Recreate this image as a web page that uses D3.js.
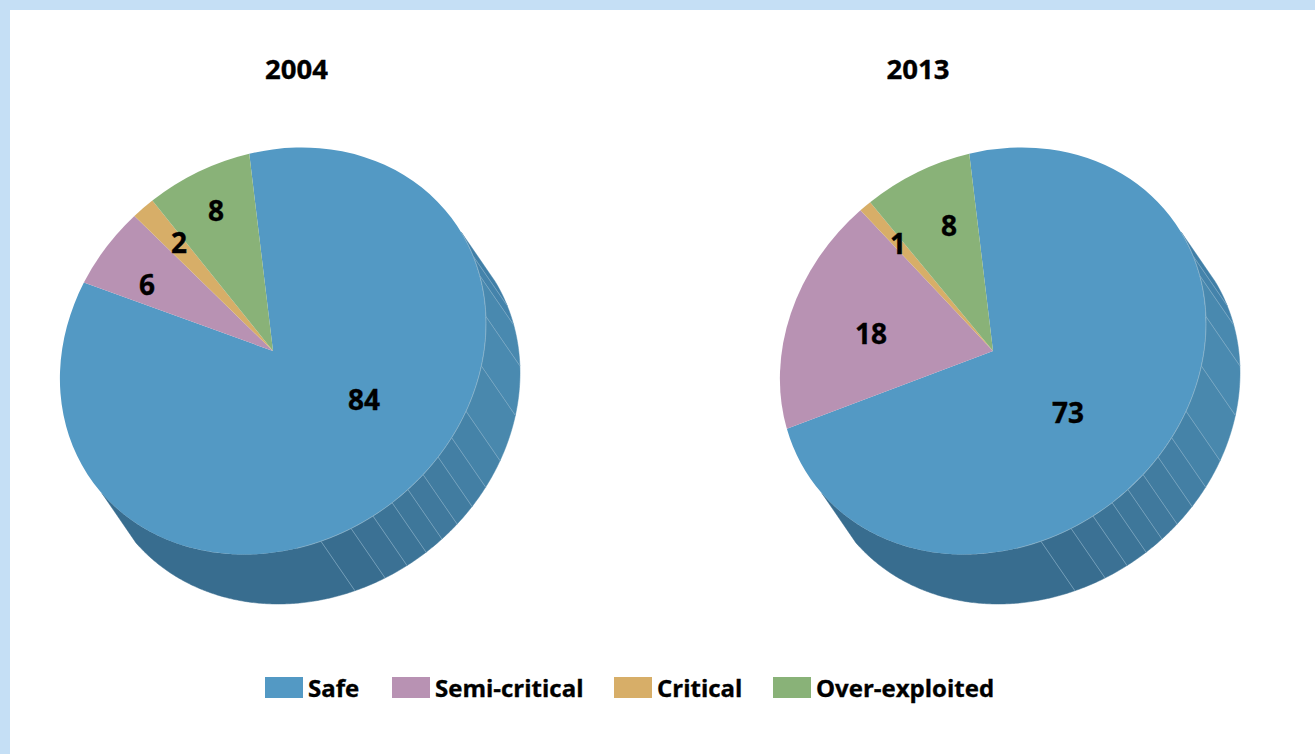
<!DOCTYPE html>
<html>
<head>
<meta charset="utf-8">
<script src="https://cdn.jsdelivr.net/npm/d3@7"></script>
<style>
html, body { margin: 0; padding: 0; background: #fff; }
svg { display: block; }
text { font-family: "Open Sans", sans-serif; font-weight: 700; fill: #000; stroke: #000; stroke-width: 0.35px; }
</style>
</head>
<body>
<div id="chart"></div>
<script>
const years = ["2004", "2013"];
const categories = ["Safe", "Semi-critical", "Critical", "Over-exploited"];
// shares, the printed labels are these rounded
const values2004 = [84.4, 6.1, 1.7, 7.8];
const values2013 = [72.7, 18.4, 0.9, 8];
const colors = ["#5399c4", "#b892b3", "#d7ae68", "#89b278"];

// hand placed labels, px from the pie centre
const labelOffsets2004 = [[91, 48], [-126, -67], [-94, -109], [-57, -141]];
const labelOffsets2013 = [[75, 61], [-122, -18], [-95, -108], [-44, -126]];

// angles (deg, clockwise from the safe slice start) where the rim facets meet
const rimEdges = [68.4, 76.4, 82.4, 94.4, 108.4, 121.4, 129.4, 135.6, 141.6, 147.1, 152.4, 158.4, 164.9, 173.4, 239.8];

const width = 1315;
const height = 754;
const centers = [273, 993];
const titleCenters = [296.5, 918];
const centerY = 351;
const rx = 213;
const ry = 203.5;
const depth = [34, 49.5];
const rad = Math.PI / 180;
const tiltX = -6.4 * rad;
const tiltY = -14.2 * rad;

const svg = d3.select("#chart").append("svg").attr("width", width).attr("height", height);

svg.append("rect").attr("width", width).attr("height", height).attr("fill", "#c5dff5");
svg.append("rect").attr("x", 10).attr("y", 10).attr("width", width - 10).attr("height", height - 10).attr("fill", "#fff");

const pie = d3.pie().sort(null).startAngle(0).endAngle(2 * Math.PI);
const arc = d3.arc().innerRadius(0).outerRadius(1);

// the disc is a unit circle pushed through this matrix, which gives the tilted look
const tiltMatrix = [
    rx * Math.cos(tiltX),
    ry * Math.sin(tiltY),
    -rx * Math.sin(tiltX),
    ry * Math.cos(tiltY),
];

function rimPoint(deg) {
    const t = deg * rad;
    return [rx * Math.sin(t + tiltX), -ry * Math.cos(t + tiltY)];
}

const rimColor = d3.scaleLinear()
    .domain([70, 90, 110, 170])
    .range(["#3f7da6", "#4a8ab0", "#4a8ab0", "#386d8f"])
    .clamp(true);

const rimLine = d3.line();

function drawPie(year, values, offsets, cx, titleX) {
    const g = svg.append("g").attr("transform", `translate(${cx},${centerY})`);

    // Rim facets first, the top disc covers their inner part
    d3.pairs(rimEdges).forEach(([a, b]) => {
        const top = d3.range(a, b, 0.5).concat(b).map(rimPoint);
        const bottom = top.map(([x, y]) => [x + depth[0], y + depth[1]]).reverse();
        g.append("path")
            .attr("d", rimLine(top.concat(bottom)) + "Z")
            .attr("fill", rimColor((a + b) / 2))
            .attr("stroke", rimColor((a + b) / 2))
            .attr("stroke-width", 0.5);
    });

    // thin light lines between the facets
    rimEdges.slice(1, -1).forEach((a) => {
        const [x, y] = rimPoint(a);
        g.append("line")
            .attr("x1", x).attr("y1", y)
            .attr("x2", x + depth[0]).attr("y2", y + depth[1])
            .attr("stroke", "#8fb6cc")
            .attr("stroke-width", 0.6);
    });

    const disc = g.append("g").attr("transform", `matrix(${tiltMatrix.join(",")},0,0)`);
    disc.selectAll("path")
        .data(pie(values))
        .enter()
        .append("path")
        .attr("d", arc)
        .attr("fill", (d, i) => colors[i]);

    // light seam where the disc meets the rim
    g.append("path")
        .attr("d", rimLine(d3.range(rimEdges[0], 180, 0.5).map(rimPoint)))
        .attr("fill", "none")
        .attr("stroke", "#8fb6cc")
        .attr("stroke-width", 0.7);

    g.selectAll("text.value")
        .data(values)
        .enter()
        .append("text")
        .attr("class", "value")
        .attr("x", (d, i) => offsets[i][0])
        .attr("y", (d, i) => offsets[i][1])
        .attr("text-anchor", "middle")
        .attr("dominant-baseline", "central")
        .attr("font-size", 28)
        .text((d) => Math.round(d));

    svg.append("text")
        .attr("x", titleX)
        .attr("y", 79)
        .attr("text-anchor", "middle")
        .attr("font-size", 27.5)
        .text(year);
}

drawPie(years[0], values2004, labelOffsets2004, centers[0], titleCenters[0]);
drawPie(years[1], values2013, labelOffsets2013, centers[1], titleCenters[1]);

// Legend
const legendX = d3.scaleOrdinal().domain(categories).range([265, 392, 614, 773]);
const legend = svg.append("g");
const items = legend.selectAll("g").data(categories).enter().append("g")
    .attr("transform", (d) => `translate(${legendX(d)},677)`);
items.append("rect")
    .attr("width", 38)
    .attr("height", 21)
    .attr("fill", (d, i) => colors[i]);
items.append("text")
    .attr("x", 43)
    .attr("y", 20)
    .attr("font-size", 24)
    .text((d) => d);
</script>
</body>
</html>
